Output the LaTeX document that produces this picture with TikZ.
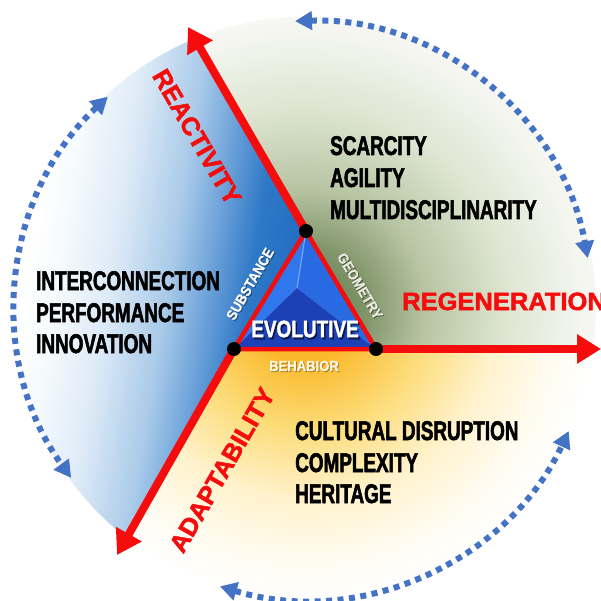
\documentclass[tikz,border=0pt]{standalone}
\usepackage{fontspec}
\setmainfont{Liberation Sans}
\newfontfamily\condf[FakeStretch=0.70,FakeBold=2]{Liberation Sans}
\newfontfamily\redf[FakeStretch=1.02,FakeBold=2]{Liberation Sans}
\newfontfamily\smallf[FakeStretch=0.9,FakeBold=0.8]{Liberation Sans}
\newfontfamily\evof[FakeStretch=0.8,FakeBold=1.5]{Liberation Sans}
\usetikzlibrary{arrows.meta,calc}
\definecolor{redA}{RGB}{245,12,12}
\definecolor{dotblue}{RGB}{68,114,196}
\definecolor{faceA}{RGB}{48,118,236}
\definecolor{faceB}{RGB}{40,106,226}
\definecolor{faceC}{RGB}{28,64,182}
\definecolor{geomcol}{RGB}{232,232,220}
\definecolor{behcol}{RGB}{255,246,228}
\pgfdeclarehorizontalshading{bluelin}{800bp}{rgb(0bp)=(1,1,1); rgb(70bp)=(1,1,1); rgb(100bp)=(0.96,0.98,0.99); rgb(150bp)=(0.87,0.92,0.97); rgb(210bp)=(0.66,0.79,0.91); rgb(250bp)=(0.42,0.63,0.85); rgb(290bp)=(0.18,0.47,0.78); rgb(400bp)=(0.08,0.37,0.73)}
\pgfdeclareradialshading{greenshade}{\pgfpoint{0bp}{0bp}}{rgb(0bp)=(0.40,0.48,0.31); rgb(60bp)=(0.50,0.58,0.41); rgb(120bp)=(0.72,0.77,0.64); rgb(200bp)=(0.87,0.90,0.82); rgb(270bp)=(0.95,0.96,0.93); rgb(291bp)=(0.97,0.97,0.96)}
\pgfdeclareradialshading{yellowshade}{\pgfpoint{0bp}{0bp}}{rgb(0bp)=(0.97,0.67,0.08); rgb(55bp)=(0.98,0.73,0.18); rgb(120bp)=(0.99,0.86,0.47); rgb(190bp)=(1,0.95,0.80); rgb(250bp)=(1,0.985,0.94); rgb(291bp)=(1,1,1)}
\begin{document}
\begin{tikzpicture}[x=1pt,y=-1pt,
  redarrow/.style={draw=redA, line width=8pt, -{Triangle[length=24pt,width=28pt]}},
  dotarc/.style={draw=dotblue, line width=6pt, dash pattern=on 6pt off 5.5pt,
    {Triangle[length=17pt,width=18pt]}-{Triangle[length=17pt,width=18pt]}},
  listtxt/.style={anchor=base west, inner sep=0pt, font=\condf\bfseries\fontsize{27}{32}\selectfont, text=black},
  redtxt/.style={inner sep=0pt, font=\redf\bfseries\fontsize{25}{30}\selectfont, text=redA},
  smalltxt/.style={inner sep=0pt, font=\smallf\bfseries\fontsize{14.5}{16}\selectfont},
  evotxt/.style={inner sep=0pt, font=\evof\bfseries\fontsize{23.7}{28}\selectfont},
  vdot/.style={circle, fill=black, inner sep=0pt, minimum size=14pt},
  bgshade/.style={inner sep=0pt, outer sep=0pt}
]
\fill[white] (0,0) rectangle (601,601);
\useasboundingbox (0,0) rectangle (601,601);

\coordinate (C) at (305,308);
\coordinate (T) at (306,231);
\coordinate (L) at (234,349);
\coordinate (R) at (376,349);
\coordinate (P) at (297,288);
\coordinate (RT) at (188,27);
\coordinate (AT) at (117,555);
\coordinate (GT) at (601,349);

% background sectors
\begin{scope}
  \clip (C) circle[radius=291];
  \clip (T) -- (70,-177) -- (800,-177) -- (800,349) -- (R) -- cycle;
  \node[bgshade] (bgG) at (C) {\pgfuseshading{greenshade}};
\end{scope}
\begin{scope}
  \clip (C) circle[radius=291];
  \clip (T) -- (70,-177) -- (-300,-177) -- (-300,761) -- (-1,761) -- (L) -- cycle;
  \node[bgshade, rotate=-9, anchor=west] (bgB) at (-50,320) {\pgfuseshading{bluelin}};
\end{scope}
\begin{scope}
  \clip (C) circle[radius=291];
  \clip (L) -- (-1,761) -- (800,761) -- (800,349) -- (R) -- cycle;
  \node[bgshade] (bgY) at (C) {\pgfuseshading{yellowshade}};
\end{scope}

% dotted arcs
\coordinate (a1) at ($(C)+(-92:287)$);
\coordinate (a2) at ($(C)+(-133:289)$);
\coordinate (a3) at ($(C)+(-253:291)$);
\draw[dotarc] (a1) arc[start angle=-92, end angle=-10, radius=287];
\draw[dotarc] (a2) arc[start angle=-133, end angle=-216, radius=289];
\draw[dotarc] (a3) arc[start angle=-253, end angle=-335, radius=291];

% red arrows
\draw[redarrow] (T) -- (RT);
\draw[redarrow] (L) -- (AT);
\draw[redarrow] (R) -- (GT);

% pyramid
\fill[faceA] (T) -- (L) -- (P) -- cycle;
\fill[faceB] (T) -- (R) -- (P) -- cycle;
\fill[faceC] (L) -- (R) -- (P) -- cycle;
\draw[faceA!60!white, line width=1pt] (T) -- (P);
\draw[redA, line width=4.5pt, line join=round] (T) -- (L) -- (R) -- cycle;
\node[vdot] (dT) at (T) {};
\node[vdot] (dL) at (L) {};
\node[vdot] (dR) at (R) {};

% texts
\node[evotxt, text=black, opacity=0.55] (evosh) at (306.5,331) {EVOLUTIVE};
\node[evotxt, text=white] (evo) at (305,329) {EVOLUTIVE};
\node[smalltxt, text=black, opacity=0.35, rotate=60] (subsh) at (251,285) {SUBSTANCE};
\node[smalltxt, text=white, rotate=60] (sub) at (250,284) {SUBSTANCE};
\node[smalltxt, text=black, opacity=0.35, rotate=-59] (geosh) at (361,287) {GEOMETRY};
\node[smalltxt, text=geomcol, rotate=-59] (geo) at (360,286) {GEOMETRY};
\node[smalltxt, text=black, opacity=0.3] (behsh) at (305,367) {BEHABIOR};
\node[smalltxt, text=behcol] (beh) at (304,366) {BEHABIOR};

\node[redtxt, rotate=-60] (react) at (197,137) {REACTIVITY};
\node[redtxt, rotate=60] (adapt) at (222,470) {ADAPTABILITY};
\node[redtxt, anchor=base west] (regen) at (402,310) {REGENERATION};

\node[listtxt] (s1) at (330,155) {SCARCITY};
\node[listtxt] (s2) at (330,187) {AGILITY};
\node[listtxt] (s3) at (330,219) {MULTIDISCIPLINARITY};
\node[listtxt] (i1) at (36,290) {INTERCONNECTION};
\node[listtxt] (i2) at (36,322) {PERFORMANCE};
\node[listtxt] (i3) at (36,353) {INNOVATION};
\node[listtxt] (c1) at (295,440) {CULTURAL DISRUPTION};
\node[listtxt] (c2) at (295,472) {COMPLEXITY};
\node[listtxt] (c3) at (295,503) {HERITAGE};
\end{tikzpicture}
\end{document}
